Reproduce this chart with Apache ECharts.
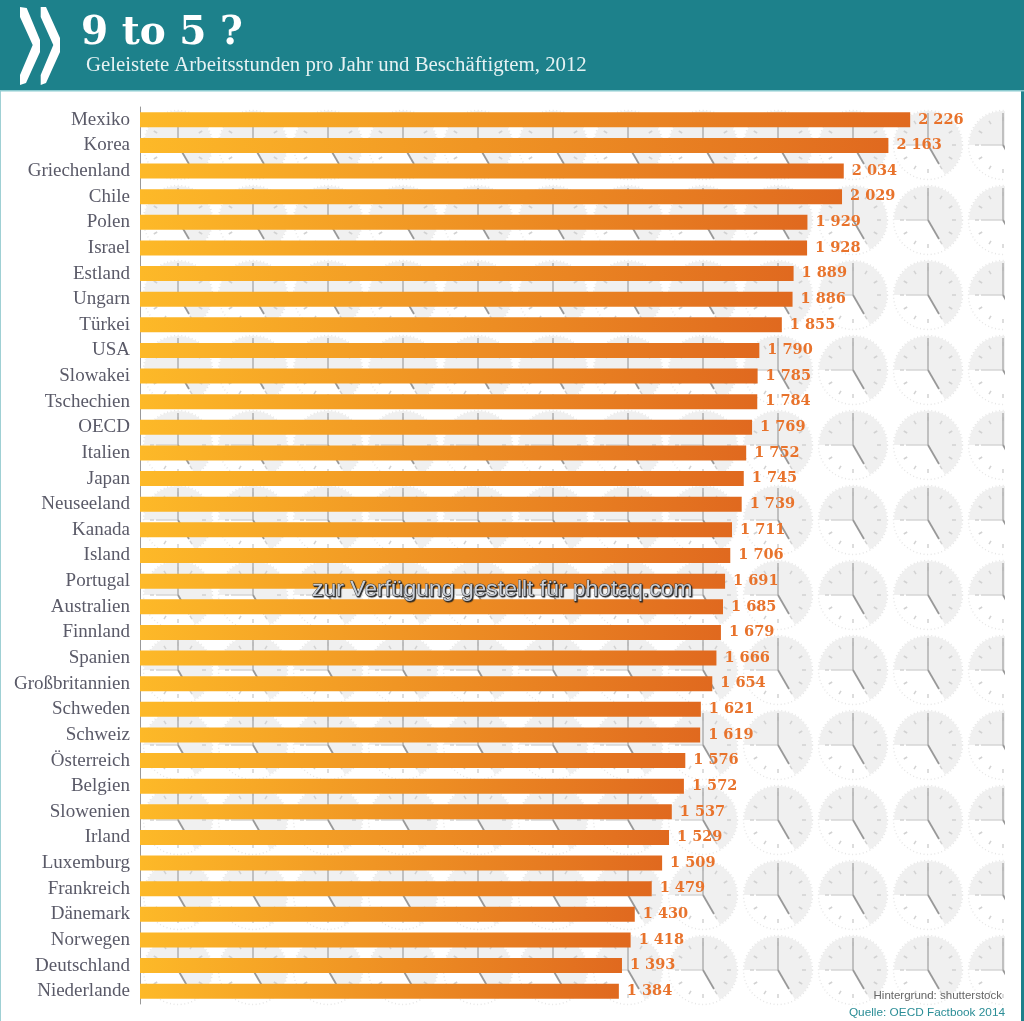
<!DOCTYPE html>
<html>
<head>
<meta charset="utf-8">
<style>
  html, body { margin: 0; padding: 0; background: #fff; }
  #main { width: 1024px; height: 1021px; }
</style>
</head>
<body>
<div id="main"></div>
<script src="https://cdn.jsdelivr.net/npm/echarts@6/dist/echarts.min.js"></script>
<script>
const countries = ['Mexiko', 'Korea', 'Griechenland', 'Chile', 'Polen', 'Israel', 'Estland', 'Ungarn', 'Türkei', 'USA',
  'Slowakei', 'Tschechien', 'OECD', 'Italien', 'Japan', 'Neuseeland', 'Kanada', 'Island', 'Portugal', 'Australien',
  'Finnland', 'Spanien', 'Großbritannien', 'Schweden', 'Schweiz', 'Österreich', 'Belgien', 'Slowenien', 'Irland',
  'Luxemburg', 'Frankreich', 'Dänemark', 'Norwegen', 'Deutschland', 'Niederlande'];
const hours = [2226, 2163, 2034, 2029, 1929, 1928, 1889, 1886, 1855, 1790,
  1785, 1784, 1769, 1752, 1745, 1739, 1711, 1706, 1691, 1685,
  1679, 1666, 1654, 1621, 1619, 1576, 1572, 1537, 1529,
  1509, 1479, 1430, 1418, 1393, 1384];

const TEAL = '#1d818b';
const SERIF = '"Liberation Serif", serif';
const SANS = '"Liberation Sans", sans-serif';

// a clock showing 9 to 5, used as wallpaper behind the bars
function clock(cx, cy) {
  const kids = [];
  kids.push({
    type: 'sector',
    shape: { cx: 0, cy: 0, r: 34, r0: 0, startAngle: Math.PI, endAngle: Math.PI * 2 + Math.PI / 3, clockwise: true },
    style: { fill: '#f0f0f0' }
  });
  kids.push({
    type: 'circle',
    shape: { cx: 0, cy: 0, r: 34.5 },
    style: { fill: null, stroke: '#e6e6e6', lineWidth: 1.5, lineDash: [1, 2.6] }
  });
  for (let h = 0; h < 12; h++) {
    const a = h * Math.PI / 6;
    const s = Math.sin(a), c = Math.cos(a);
    kids.push({
      type: 'line',
      shape: { x1: s * 24, y1: -c * 24, x2: s * 28, y2: -c * 28 },
      style: { stroke: '#d2d2d2', lineWidth: 1.5 }
    });
  }
  kids.push({ type: 'line', shape: { x1: -22, y1: 0, x2: 0, y2: 0 }, style: { stroke: '#d6d6d6', lineWidth: 1.5 } });
  kids.push({ type: 'line', shape: { x1: 0, y1: -32, x2: 0, y2: 0 }, style: { stroke: '#b4b4b4', lineWidth: 1.6 } });
  kids.push({ type: 'line', shape: { x1: 0, y1: 0, x2: 11, y2: 19 }, style: { stroke: '#999', lineWidth: 1.8 } });
  return { type: 'group', x: cx, y: cy, children: kids };
}

const elements = [];
for (let r = 0; r < 12; r++) {
  for (let c = 0; c < 12; c++) {
    elements.push(clock(178 + c * 75, 145 + r * 75));
  }
}
// last column is cut off in half, the rest of the page is the frame
elements.push({ type: 'rect', shape: { x: 1005, y: 90, width: 17, height: 931 }, style: { fill: '#fff' } });
elements.push({ type: 'rect', shape: { x: 1021, y: 90, width: 3, height: 931 }, style: { fill: TEAL } });
elements.push({ type: 'rect', shape: { x: 0, y: 90, width: 1, height: 931 }, style: { fill: '#9fd0d4' } });
elements.push({ type: 'rect', shape: { x: 0, y: 0, width: 1024, height: 90 }, style: { fill: TEAL } });
elements.push({ type: 'rect', shape: { x: 0, y: 90, width: 1024, height: 1.5 }, style: { fill: '#8ccbd0' } });
// OECD chevrons
elements.push({ type: 'polygon', shape: { points: [[20, 7], [26.7, 8], [40, 40], [40, 52], [26, 83], [20, 85], [20, 75], [32.7, 45], [20, 17]] }, style: { fill: '#fff' } });
elements.push({ type: 'polygon', shape: { points: [[40.7, 7], [46, 7], [60, 38], [60, 52], [46, 83], [40.7, 85], [40.7, 75], [53.3, 45], [40.7, 17]] }, style: { fill: '#fff' } });

const option = {
  backgroundColor: '#fff',
  animation: false,
  title: [
    { text: '9 to 5 ?', left: 81, top: 14, padding: 0,
      textStyle: { color: '#fff', fontFamily: '"DejaVu Serif", serif', fontWeight: 'bold', fontSize: 39 } },
    { text: 'Geleistete Arbeitsstunden pro Jahr und Beschäftigtem, 2012', left: 86, top: 55, padding: 0,
      textStyle: { color: '#e6f2f3', fontFamily: SERIF, fontWeight: 'normal', fontSize: 20.8 } },
    { text: 'zur Verfügung gestellt für photaq.com', left: 312, top: 578, padding: 0,
      textStyle: { color: '#c9ced6', fontFamily: SANS, fontWeight: 'normal', fontSize: 22.9,
        textBorderColor: '#444', textBorderWidth: 0.8,
        textShadowColor: '#222', textShadowBlur: 1, textShadowOffsetX: 1, textShadowOffsetY: 1 } },
    { text: 'Hintergrund: shutterstock', right: 22, top: 990, padding: 0,
      textStyle: { color: '#666', fontFamily: SANS, fontWeight: 'normal', fontSize: 11.5 } },
    { text: 'Quelle: OECD Factbook 2014', right: 19, top: 1007, padding: 0,
      textStyle: { color: '#2a8d96', fontFamily: SANS, fontWeight: 'normal', fontSize: 11.8 } }
  ],
  grid: { left: 140, top: 107, width: 865, height: 897 },
  xAxis: { type: 'value', min: 0, max: 2500, show: false },
  yAxis: {
    type: 'category',
    inverse: true,
    data: countries,
    axisLine: { show: true, lineStyle: { color: '#999', width: 1 } },
    axisTick: { show: false },
    axisLabel: { margin: 10, color: '#5a5a68', fontFamily: SERIF, fontSize: 19 }
  },
  series: [{
    type: 'bar',
    data: hours,
    barWidth: 15,
    itemStyle: {
      color: new echarts.graphic.LinearGradient(0, 0, 1, 0, [
        { offset: 0, color: '#fdb928' },
        { offset: 1, color: '#e0691f' }
      ])
    },
    label: {
      show: true,
      position: 'right',
      distance: 8,
      color: '#e8732c',
      fontFamily: '"DejaVu Serif", serif',
      fontWeight: 'bold',
      fontSize: 14.5,
      formatter: p => String(p.value).replace(/^(\d)/, '$1 ')
    }
  }],
  graphic: { elements: elements }
};

const chart = echarts.init(document.getElementById('main'));
chart.setOption(option);
</script>
</body>
</html>
